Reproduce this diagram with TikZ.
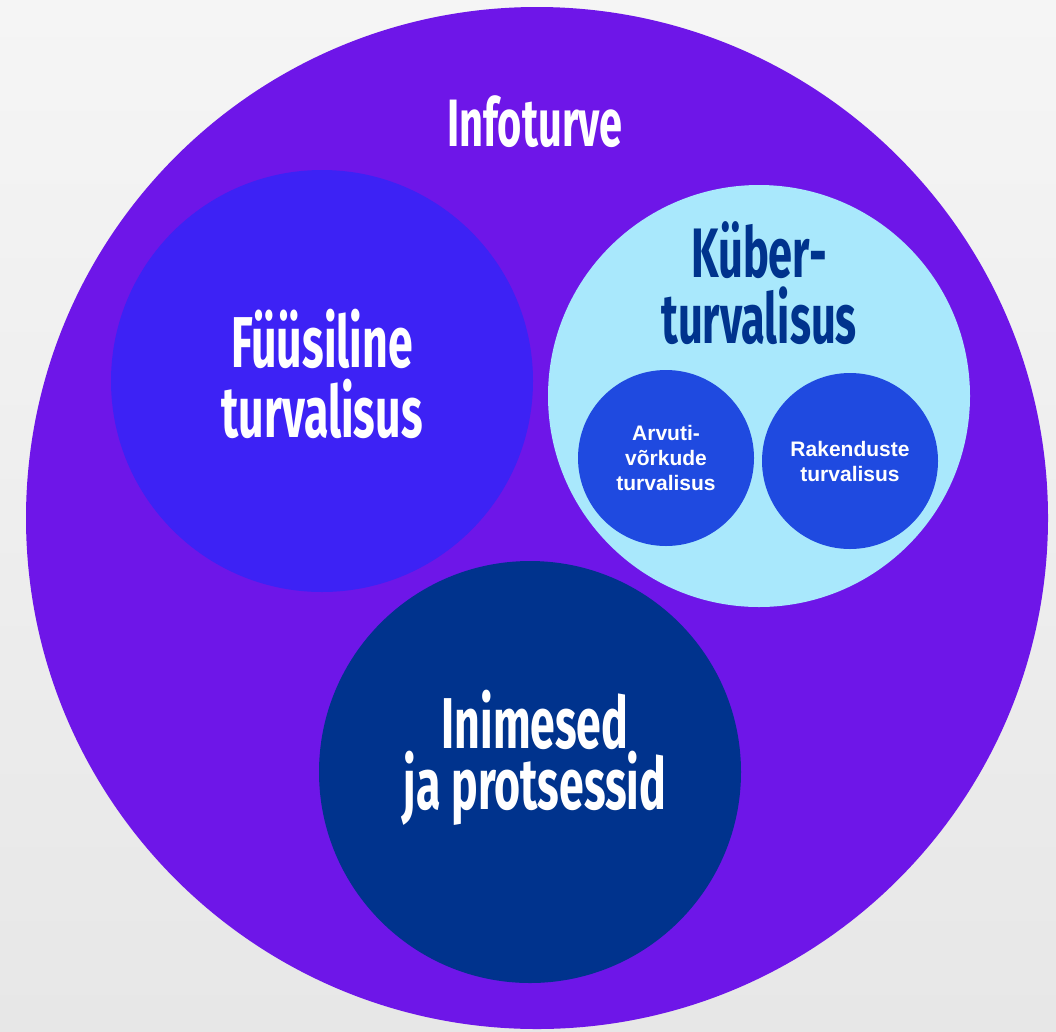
\documentclass[tikz,border=0pt]{standalone}
\usepackage{fontspec}
\setmainfont{Liberation Sans}
\newfontfamily\condfont[FakeStretch=0.62]{Fira Sans}
\usetikzlibrary{calc}

\definecolor{bgtop}{HTML}{F5F5F5}
\definecolor{bgbot}{HTML}{E7E7E7}
\definecolor{infopurple}{HTML}{6E16E8}
\definecolor{fysblue}{HTML}{3D22F5}
\definecolor{kyberlight}{HTML}{A9E8FC}
\definecolor{netblue}{HTML}{1F4AE0}
\definecolor{navy}{HTML}{00338D}

\tikzset{
  ring/.style={circle, inner sep=0pt, minimum size=#1},
  bigtext/.style 2 args={font=\condfont\bfseries\fontsize{#1}{#2}\selectfont, align=center, text=white, anchor=base},
  smalltext/.style={font=\bfseries\fontsize{21}{25}\selectfont, align=center, text=white}
}

\begin{document}
\begin{tikzpicture}[x=1pt,y=-1pt]
\useasboundingbox (0,0) rectangle (1056,1031);
\shade[top color=bgtop, bottom color=bgbot] (0,0) rectangle (1056,1031);
% circles
\node[ring=1022pt, fill=infopurple] (info) at (537,518) {};
\node[ring=422pt, fill=fysblue] (fys) at (322,381) {};
\node[ring=422pt, fill=kyberlight] (kyber) at (759,396) {};
\node[ring=422pt, fill=navy] (inim) at (530,772) {};
\node[ring=176pt, fill=netblue, smalltext] (vork) at (666,458) {Arvuti-\\võrkude\\turvalisus};
\node[ring=176pt, fill=netblue, smalltext] (rak) at (850,461) {Rakenduste\\turvalisus};
% labels (base = last line)
\node[bigtext={67}{70}] (infolbl) at (535,146) {Infoturve};
\node[bigtext={72}{70}] (fyslbl) at ($(fys)+(0,56)$) {Füüsiline\\turvalisus};
\node[bigtext={70}{66}, text=navy] (kyberlbl) at ($(kyber)+(0,-53)$) {Küber-\\turvalisus};
\node[bigtext={72}{61}] (inimlbl) at ($(inim)+(5,37)$) {Inimesed\\ja protsessid};
\end{tikzpicture}
\end{document}
